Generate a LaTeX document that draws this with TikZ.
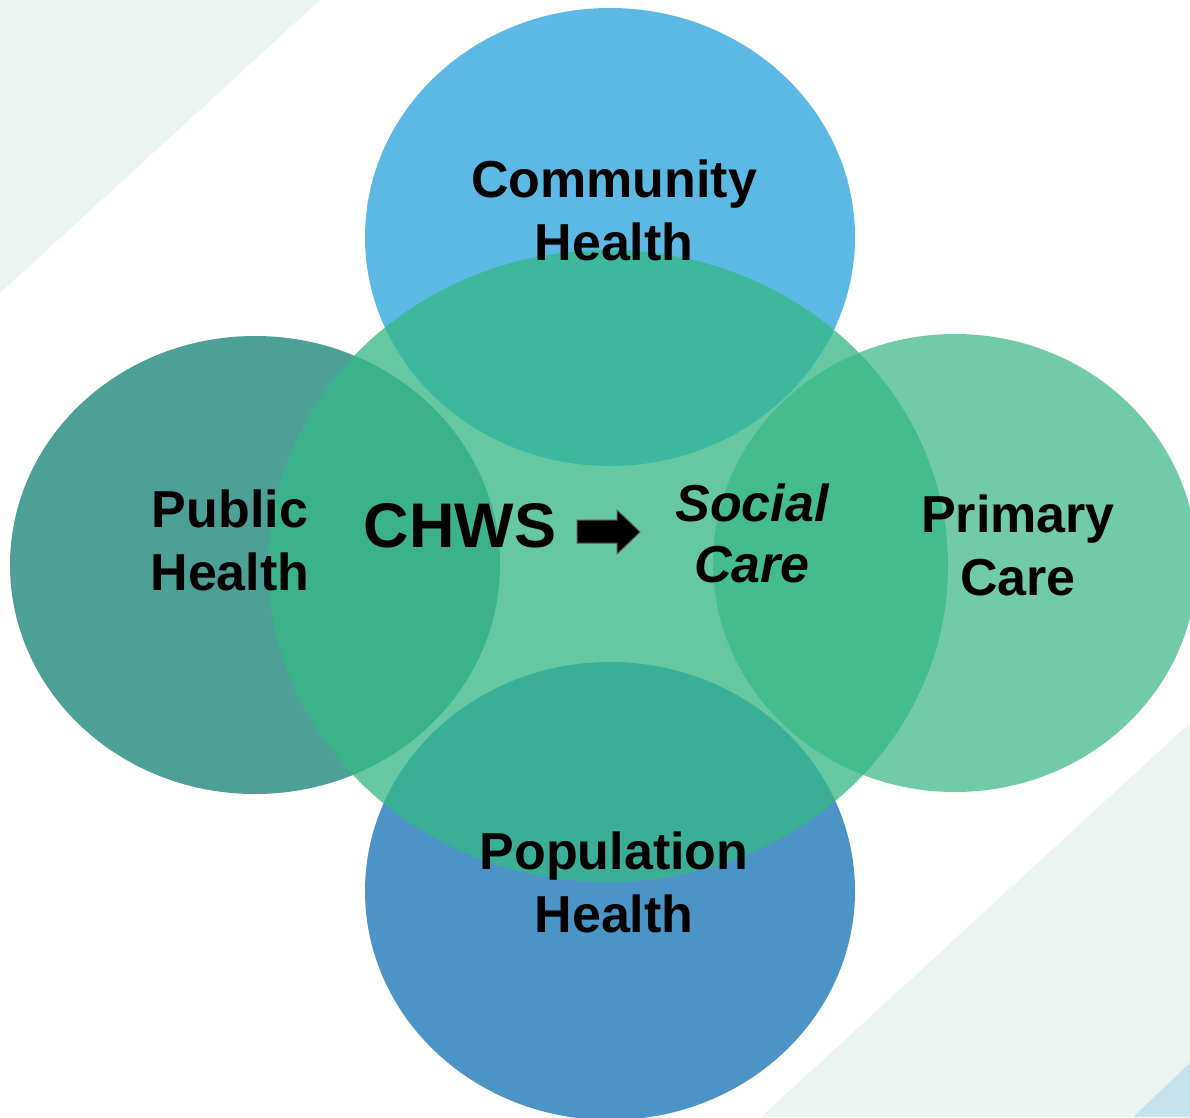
\documentclass[tikz,border=0pt]{standalone}
\usepackage{fontspec}
\setmainfont{Liberation Sans}
\usetikzlibrary{shapes.geometric}
\definecolor{bgpale}{HTML}{ECF4F2}
\definecolor{bgblue}{HTML}{C5E2EE}
\definecolor{ctop}{HTML}{5BB9E3}
\definecolor{cleft}{HTML}{4DA095}
\definecolor{cright}{HTML}{71CBA9}
\definecolor{cbottom}{HTML}{4C94C5}
\definecolor{ccentre}{HTML}{36B886}
\definecolor{arrowedge}{HTML}{555555}

\begin{document}
\begin{tikzpicture}[x=1pt,y=-1pt,
  blob/.style={ellipse, inner sep=0pt, minimum width=490pt, minimum height=458pt, draw=none},
  areatext/.style={font=\fontsize{52}{63}\selectfont\bfseries, align=center, inner sep=0pt, text=black},
]
\useasboundingbox (0,0) rectangle (1190,1117);
% page background with pale diagonal bands
\fill[white] (0,0) rectangle (1190,1117);
\fill[bgpale] (0,0) -- (320,0) -- (0,293) -- cycle;
\fill[bgpale] (1190,723) -- (1190,1117) -- (761,1117) -- cycle;
\fill[bgblue] (1190,1063) -- (1190,1117) -- (1133,1117) -- cycle;

% four outer areas
\node[blob, fill=cleft] (public) at (255,565) {};
\node[blob, fill=cright, minimum width=484pt] (primary) at (955,563) {};
\node[blob, fill=ctop] (community) at (610,237) {};
\node[blob, fill=cbottom] (population) at (610,891) {};

% translucent central area
\node[ellipse, inner sep=0pt, minimum width=680pt, minimum height=632pt,
      fill=ccentre, fill opacity=0.76] (core) at (608,566) {};

% area labels
\node[areatext] (t-community) at (614,210) {Community\\Health};
\node[areatext] (t-public) at (230,540) {Public\\Health};
\node[areatext] (t-primary) at (1018,545) {Primary\\Care};
\node[areatext] (t-population) at (614,882) {Population\\Health};

% centre statement
\node[areatext, font=\fontsize{63}{70}\selectfont\bfseries, anchor=base] (t-chws) at (460,547) {CHWS};
\node[areatext, font=\fontsize{52}{61}\selectfont\bfseries\itshape] (t-social) at (752,533) {Social\\Care};

% block arrow between the two
\draw[fill=black, draw=arrowedge, line width=1pt, line join=miter]
  (577,520) -- (617,520) -- (617,510) -- (640,532) -- (617,554) -- (617,543) -- (577,543) -- cycle;
\end{tikzpicture}
\end{document}
